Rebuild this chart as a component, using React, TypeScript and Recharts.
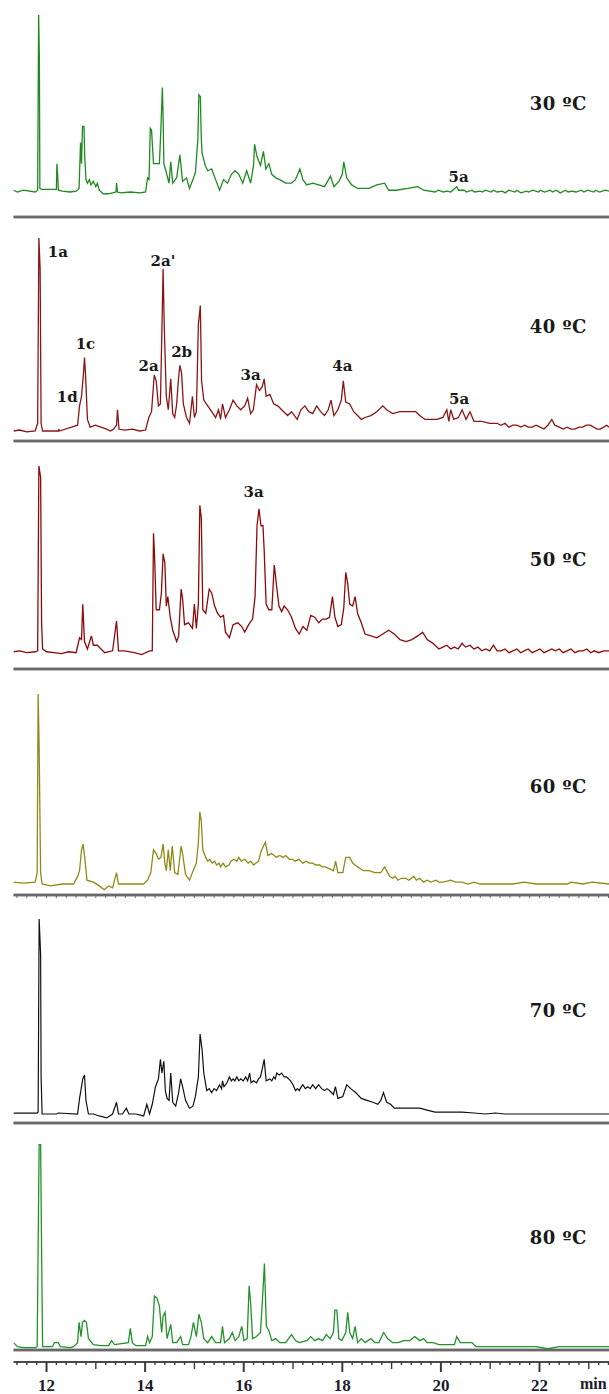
import { LineChart, Line, XAxis, YAxis, ReferenceLine, ReferenceDot } from 'recharts';

// retention time window shown on the shared time axis (min)
const T_START = 11.33;
const T_END = 23.41;

// chromatogram traces: [retention time (min), relative intensity (% of tallest peak)]
const run30: [number, number][] = [
  [11.33, 1], [11.41, 0], [11.53, 1], [11.77, 0], [11.82, 1], [11.84, 100], [11.855, 75], [11.865, 2],
  [11.9, 1.5], [12.2, 1.5], [12.21, 16], [12.225, 10], [12.24, 1], [12.32, 0.5], [12.48, 0], [12.6, 0.5],
  [12.66, 2], [12.69, 28], [12.71, 16], [12.73, 37], [12.76, 37], [12.775, 20], [12.8, 7], [12.83, 5],
  [12.87, 7], [12.9, 4], [12.95, 6], [13.0, 3], [13.03, 5], [13.07, 1], [13.15, -1], [13.25, -1],
  [13.34, -0.5], [13.41, 0], [13.42, 5], [13.44, 0], [13.5, -0.5], [13.7, 0], [13.9, -0.5], [14.01, 0],
  [14.05, 8], [14.08, 7], [14.105, 36], [14.13, 35], [14.17, 16], [14.29, 16], [14.32, 36], [14.35, 59],
  [14.365, 42], [14.38, 16], [14.43, 11], [14.485, 5], [14.52, 17], [14.56, 5], [14.64, 8], [14.705, 21],
  [14.76, 6], [14.84, 8], [14.9, 2], [14.97, 7], [15.02, 11], [15.07, 30], [15.09, 55], [15.12, 54],
  [15.14, 30], [15.155, 22], [15.22, 15], [15.27, 12], [15.35, 13], [15.43, 7], [15.51, 1], [15.59, 7],
  [15.67, 5], [15.75, 10], [15.825, 12], [15.9, 10], [15.98, 5], [16.06, 12], [16.14, 5], [16.2, 15],
  [16.22, 27], [16.27, 20], [16.34, 15], [16.4, 23], [16.45, 13], [16.51, 16], [16.57, 10], [16.65, 8],
  [16.73, 7], [16.85, 5], [16.97, 5], [17.05, 7], [17.14, 13], [17.2, 7], [17.28, 4], [17.4, 5],
  [17.52, 4], [17.64, 3], [17.76, 9], [17.83, 3], [17.93, 6], [18.0, 10], [18.03, 17], [18.09, 8],
  [18.19, 4], [18.31, 2], [18.42, 2], [18.54, 2], [18.7, 4], [18.86, 5], [18.94, 1], [19.09, 1],
  [19.33, 2], [19.53, 3], [19.65, 1], [19.88, 0], [19.95, 1], [20.05, 0], [20.12, 0.5], [20.2, 0],
  [20.32, 3], [20.36, 1], [20.47, 1], [20.52, 0], [20.63, 1], [20.68, 0], [20.8, 0.5], [20.84, 0],
  [20.9, 1], [21.02, 0], [21.06, 1], [21.14, 0], [21.25, 0.5], [21.3, -0.5], [21.38, 1], [21.5, 0],
  [21.54, 1], [21.62, -0.5], [21.74, 0.5], [21.78, 0], [21.86, 1], [21.98, 0], [22.02, 1], [22.1, 0],
  [22.22, 1], [22.26, 0], [22.34, 1], [22.42, -0.5], [22.53, 1], [22.58, 0], [22.66, 0.5], [22.74, 0],
  [22.85, 1], [22.9, 0], [22.98, 1], [23.1, 0], [23.14, 1], [23.22, 0], [23.33, 1], [23.41, 0.5],
];

const run40: [number, number][] = [
  [11.33, 0], [11.45, 0.5], [11.6, -0.5], [11.77, 0], [11.82, 4], [11.845, 100], [11.87, 84], [11.89, 4],
  [11.92, 0], [12.24, 0], [12.25, 1], [12.26, 0], [12.63, 3], [12.67, 13], [12.71, 18], [12.75, 30],
  [12.77, 38], [12.79, 30], [12.83, 6], [12.885, 2], [12.99, 3], [13.105, 2], [13.22, 1], [13.3, 0],
  [13.36, 1], [13.42, 3], [13.44, 11], [13.47, 1], [13.58, 0.5], [13.74, 1], [13.89, 0], [14.01, 0.5],
  [14.075, 7], [14.13, 10], [14.185, 29], [14.225, 26], [14.27, 13], [14.31, 14], [14.34, 52], [14.365, 84],
  [14.39, 52], [14.43, 18], [14.47, 11], [14.52, 27], [14.56, 9], [14.6, 7], [14.64, 14], [14.68, 28],
  [14.705, 34], [14.74, 30], [14.775, 14], [14.84, 7], [14.9, 4], [14.96, 18], [15.0, 7], [15.04, 10],
  [15.08, 55], [15.12, 65], [15.145, 26], [15.19, 16], [15.27, 13], [15.35, 10], [15.43, 7], [15.49, 11],
  [15.53, 6], [15.57, 14], [15.63, 7], [15.71, 11], [15.785, 16], [15.86, 13], [15.94, 11], [16.02, 13],
  [16.08, 17], [16.14, 9], [16.195, 11], [16.26, 24], [16.32, 21], [16.375, 23], [16.415, 27], [16.455, 18],
  [16.53, 19], [16.61, 14], [16.69, 13], [16.77, 11], [16.89, 8], [16.97, 10], [17.085, 6], [17.16, 11],
  [17.24, 13], [17.32, 10], [17.4, 9], [17.48, 13], [17.56, 10], [17.64, 8], [17.715, 11], [17.77, 16],
  [17.83, 8], [17.91, 11], [17.98, 16], [18.02, 26], [18.07, 15], [18.15, 14], [18.23, 10], [18.31, 8],
  [18.385, 6], [18.46, 7], [18.58, 8], [18.7, 10], [18.82, 13], [18.9, 11], [19.02, 9], [19.17, 10],
  [19.33, 10], [19.49, 10], [19.57, 8], [19.68, 6], [19.8, 6], [19.92, 6], [20.04, 7], [20.12, 11],
  [20.16, 5], [20.2, 11], [20.26, 6], [20.355, 7], [20.43, 11], [20.51, 6], [20.59, 10], [20.67, 5],
  [20.83, 5], [20.99, 4], [21.14, 4], [21.22, 3], [21.3, 4], [21.38, 2], [21.46, 3], [21.54, 3],
  [21.62, 2], [21.7, 3], [21.77, 2], [21.85, 2], [21.93, 3], [22.01, 2], [22.09, 1], [22.17, 3],
  [22.25, 6], [22.31, 3], [22.4, 2], [22.48, 1], [22.56, 2], [22.64, 1], [22.72, 1], [22.8, 2],
  [22.88, 2], [22.95, 3], [23.03, 3], [23.1, 2], [23.17, 1], [23.23, 1], [23.3, 2], [23.36, 3], [23.41, 2],
];

const run50: [number, number][] = [
  [11.33, 0.5], [11.45, 1], [11.6, 0], [11.77, 0.5], [11.82, 1], [11.845, 100], [11.88, 94], [11.9, 16],
  [11.92, 2], [12.0, 0.5], [12.15, 0], [12.3, -0.5], [12.45, 0.5], [12.6, 0], [12.67, 8], [12.71, 7],
  [12.735, 26], [12.77, 6], [12.83, 2], [12.91, 9], [12.95, 4], [13.03, 4], [13.105, 2], [13.18, 0],
  [13.34, 1], [13.42, 17], [13.46, 1], [13.58, 1], [13.78, 0], [13.93, -1], [14.09, 1], [14.145, 1],
  [14.17, 64], [14.19, 53], [14.225, 23], [14.29, 23], [14.33, 32], [14.365, 53], [14.4, 48], [14.43, 25],
  [14.46, 30], [14.51, 19], [14.56, 12], [14.64, 6], [14.68, 9], [14.73, 34], [14.76, 29], [14.8, 15],
  [14.88, 16], [14.96, 13], [15.0, 26], [15.04, 13], [15.08, 26], [15.11, 79], [15.14, 72], [15.17, 23],
  [15.23, 21], [15.3, 34], [15.35, 32], [15.41, 25], [15.47, 21], [15.53, 19], [15.59, 20], [15.63, 11],
  [15.71, 8], [15.785, 15], [15.88, 16], [15.96, 14], [16.02, 11], [16.1, 15], [16.18, 18], [16.23, 30],
  [16.27, 68], [16.31, 77], [16.35, 68], [16.39, 68], [16.415, 55], [16.455, 26], [16.51, 23], [16.57, 23],
  [16.62, 47], [16.67, 35], [16.715, 25], [16.77, 22], [16.82, 25], [16.89, 23], [16.97, 19], [17.05, 13],
  [17.125, 10], [17.2, 14], [17.28, 12], [17.36, 20], [17.44, 19], [17.52, 16], [17.6, 18], [17.675, 18],
  [17.74, 19], [17.8, 30], [17.85, 19], [17.91, 14], [17.98, 15], [18.03, 24], [18.07, 43], [18.11, 37],
  [18.15, 26], [18.21, 25], [18.26, 30], [18.31, 21], [18.385, 16], [18.46, 10], [18.58, 9], [18.7, 8],
  [18.82, 10], [18.94, 12], [19.055, 10], [19.17, 7], [19.29, 6], [19.41, 7], [19.53, 9], [19.63, 11],
  [19.72, 7], [19.84, 5], [19.96, 2], [20.04, 3], [20.12, 4], [20.2, 2], [20.275, 3], [20.35, 2],
  [20.43, 5], [20.5, 3], [20.59, 4], [20.67, 2], [20.75, 3], [20.83, 1], [20.91, 2], [20.99, 1],
  [21.065, 4], [21.14, 1], [21.22, 1], [21.3, 2], [21.38, 0], [21.46, 1], [21.54, 2], [21.62, 0],
  [21.69, 1], [21.77, 2], [21.85, 0], [21.93, 1], [22.01, 2], [22.09, 0], [22.17, 1], [22.25, 2],
  [22.32, 1], [22.4, 2], [22.48, 0], [22.56, 1], [22.64, 2], [22.72, 0], [22.8, 1], [22.88, 1],
  [22.96, 2], [23.04, 0], [23.11, 1], [23.2, 0], [23.3, 1], [23.41, 1],
];

const run60: [number, number][] = [
  [11.33, 1], [11.53, 0.5], [11.77, 1], [11.81, 6], [11.83, 100], [11.85, 72], [11.88, 6], [11.91, 0],
  [12.08, -1], [12.32, 0], [12.55, 0], [12.63, 4], [12.67, 7], [12.71, 18], [12.74, 21], [12.775, 14],
  [12.82, 2], [12.95, 1], [13.07, -1], [13.17, -3], [13.26, -1], [13.34, -2], [13.42, 6], [13.46, 0],
  [13.66, 0], [13.97, 0], [14.05, 2], [14.115, 6], [14.17, 18], [14.225, 16], [14.27, 13], [14.32, 14],
  [14.365, 21], [14.4, 11], [14.43, 7], [14.47, 18], [14.51, 7], [14.55, 20], [14.6, 6], [14.665, 5],
  [14.73, 20], [14.76, 16], [14.82, 5], [14.9, 2], [14.96, 6], [15.04, 11], [15.08, 22], [15.11, 38],
  [15.14, 33], [15.17, 18], [15.23, 14], [15.27, 12], [15.31, 13], [15.36, 11], [15.41, 12], [15.45, 10],
  [15.5, 11], [15.53, 9], [15.58, 11], [15.63, 9], [15.7, 10], [15.74, 12], [15.8, 13], [15.86, 12],
  [15.9, 14], [15.95, 12], [16.02, 13], [16.09, 11], [16.14, 12], [16.2, 10], [16.25, 11], [16.3, 12],
  [16.35, 17], [16.4, 20], [16.44, 22], [16.49, 15], [16.56, 16], [16.62, 15], [16.66, 14], [16.73, 15],
  [16.8, 14], [16.85, 15], [16.93, 13], [17.0, 13], [17.04, 12], [17.12, 13], [17.2, 11], [17.27, 12],
  [17.33, 11], [17.4, 11], [17.46, 10], [17.54, 10], [17.6, 9], [17.66, 9], [17.74, 8], [17.82, 7],
  [17.865, 12], [17.91, 6], [18.01, 6], [18.07, 14], [18.15, 14], [18.21, 11], [18.31, 9], [18.425, 7],
  [18.54, 7], [18.66, 6], [18.78, 6], [18.86, 9], [18.92, 6], [18.96, 4], [19.02, 3], [19.07, 4],
  [19.13, 2], [19.2, 3], [19.29, 3], [19.35, 2], [19.45, 4], [19.5, 2], [19.57, 3], [19.65, 1],
  [19.72, 2], [19.8, 1], [19.9, 2], [19.96, 1], [20.05, 1], [20.2, 2], [20.3, 1], [20.43, 1],
  [20.55, 0], [20.67, 1], [20.8, 0], [20.91, 0], [21.14, 0], [21.46, 0], [21.69, 1], [21.93, 0],
  [22.25, 0], [22.56, 0], [22.64, 1], [22.88, 0], [23.07, 1], [23.41, 0],
];

const run70: [number, number][] = [
  [11.33, 0.5], [11.81, 0.5], [11.83, 1], [11.85, 100], [11.88, 82], [11.89, 19], [11.91, 0], [12.2, 0],
  [12.24, 0.5], [12.63, 0], [12.67, 8], [12.71, 14], [12.735, 18], [12.77, 20], [12.8, 7], [12.85, 0],
  [12.95, 0], [13.07, -1], [13.22, -2], [13.34, 0], [13.42, 6], [13.46, 0], [13.54, 0], [13.62, 3],
  [13.67, 0], [13.815, 0], [13.97, -1], [14.035, 5], [14.09, 0], [14.145, 5], [14.21, 14], [14.27, 18],
  [14.31, 28], [14.34, 21], [14.38, 27], [14.41, 12], [14.445, 8], [14.485, 7], [14.52, 21], [14.56, 6],
  [14.62, 4], [14.68, 11], [14.72, 18], [14.76, 14], [14.82, 7], [14.9, 3], [14.97, 4], [15.02, 9],
  [15.08, 19], [15.115, 41], [15.155, 33], [15.19, 21], [15.25, 12], [15.3, 13], [15.35, 11], [15.4, 13],
  [15.45, 12], [15.51, 15], [15.55, 13], [15.57, 17], [15.6, 14], [15.66, 16], [15.71, 19], [15.75, 17],
  [15.785, 18], [15.82, 17], [15.86, 19], [15.9, 17], [15.94, 18], [15.99, 17], [16.04, 19], [16.08, 17],
  [16.12, 21], [16.15, 16], [16.2, 17], [16.26, 16], [16.3, 18], [16.34, 19], [16.375, 23], [16.415, 28],
  [16.455, 17], [16.53, 18], [16.57, 17], [16.61, 19], [16.64, 18], [16.67, 21], [16.72, 20], [16.77, 21],
  [16.82, 19], [16.87, 19], [16.91, 18], [16.95, 17], [17.0, 15], [17.05, 12], [17.09, 13], [17.125, 12],
  [17.17, 14], [17.2, 15], [17.25, 13], [17.3, 14], [17.35, 13], [17.4, 15], [17.46, 13], [17.52, 15],
  [17.58, 13], [17.64, 12], [17.69, 13], [17.74, 12], [17.78, 11], [17.82, 10], [17.86, 14], [17.91, 8],
  [18.01, 9], [18.09, 15], [18.17, 13], [18.27, 11], [18.385, 8], [18.5, 7], [18.62, 6], [18.72, 5],
  [18.78, 7], [18.835, 11], [18.9, 6], [18.98, 5], [19.055, 3], [19.21, 3], [19.41, 3], [19.57, 3],
  [19.72, 2], [19.88, 1], [20.04, 1], [20.2, 1], [20.43, 1], [20.67, 0.5], [20.91, 0], [21.1, 0.5],
  [21.3, 0], [21.69, 0], [22.09, 0], [22.48, 0], [22.88, 0], [23.41, 0],
];

const run80: [number, number][] = [
  [11.33, 2], [11.41, 0], [11.53, -0.5], [11.77, -0.5], [11.81, 0], [11.83, 50], [11.85, 100], [11.88, 100],
  [11.9, 47], [11.92, 0], [12.12, 0], [12.16, 2], [12.24, 2], [12.28, 0], [12.48, -0.5], [12.55, 0],
  [12.63, 2], [12.66, 12], [12.7, 5], [12.73, 12], [12.77, 13], [12.81, 12], [12.85, 4], [12.95, 1],
  [13.105, 0.5], [13.26, 0.5], [13.32, 3], [13.38, 1], [13.66, 2], [13.7, 9], [13.74, 2], [13.815, 0.5],
  [14.01, 0.5], [14.05, 5], [14.09, 2], [14.145, 5], [14.19, 25], [14.24, 24], [14.29, 20], [14.335, 7],
  [14.365, 15], [14.405, 17], [14.445, 4], [14.52, 11], [14.56, 2], [14.64, 2], [14.72, 5], [14.76, 1],
  [14.88, 1], [14.93, 5], [14.98, 12], [15.04, 5], [15.09, 16], [15.14, 12], [15.19, 4], [15.27, 2],
  [15.35, 5], [15.43, 2], [15.53, 2], [15.57, 10], [15.61, 2], [15.71, 4], [15.77, 7], [15.825, 3],
  [15.9, 5], [15.96, 10], [16.005, 3], [16.07, 4], [16.11, 30], [16.14, 22], [16.18, 4], [16.26, 5],
  [16.34, 7], [16.38, 23], [16.42, 41], [16.46, 10], [16.51, 8], [16.57, 3], [16.65, 4], [16.73, 2],
  [16.85, 2], [16.97, 6], [17.05, 3], [17.125, 2], [17.28, 3], [17.36, 5], [17.44, 3], [17.52, 4],
  [17.6, 3], [17.675, 6], [17.755, 4], [17.82, 7], [17.85, 18], [17.89, 18], [17.93, 4], [17.99, 3],
  [18.07, 7], [18.11, 17], [18.15, 7], [18.21, 4], [18.26, 10], [18.31, 2], [18.385, 4], [18.46, 2],
  [18.58, 4], [18.66, 2], [18.74, 2], [18.84, 7], [18.92, 4], [19.02, 2], [19.13, 2], [19.25, 3],
  [19.37, 3], [19.47, 5], [19.57, 3], [19.65, 4], [19.72, 2], [19.84, 2], [19.96, 1], [20.12, 1],
  [20.275, 1], [20.32, 5], [20.395, 2], [20.51, 2], [20.63, 2], [20.71, 0], [20.99, 0], [21.3, 0],
  [21.69, 0], [21.93, 0], [22.17, -1], [22.4, 0], [22.56, 0], [22.88, 0], [23.41, 0],
];

// peak assignments: [label, retention time, intensity at label centre]
const peaks30: [string, number, number][] = [['5a', 20.36, 8.5]];
const peaks40: [string, number, number][] = [
  ['1a', 12.23, 93], ['1d', 12.42, 18], ['1c', 12.79, 45], ['2a', 14.07, 34], ["2a'", 14.36, 88],
  ['2b', 14.74, 41], ['3a', 16.14, 29], ['4a', 18.0, 34], ['5a', 20.37, 16.6],
];
const peaks50: [string, number, number][] = [['3a', 16.2, 86]];

// extraction temperature captions: [text, retention time, intensity]
const tempLabels: [string, number, number][] = [
  ['30 ºC', 22.38, 50], ['40 ºC', 22.38, 54], ['50 ºC', 22.38, 50],
  ['60 ºC', 22.38, 51], ['70 ºC', 22.38, 53], ['80 ºC', 22.38, 54],
];

// axis ticks every 0.2 min across the window; even minutes carry a label
const allTicks: number[] = [];
for (let i = 57; i <= 117; i++) allTicks.push(Math.round(i * 2) / 10);

const W = 609;
const PAD_T = 2;
const PAD_B = 3;
const LEFT = 13.5;
const AXIS_H = 32;
const MINOR_H = 5;
const SERIF = "'DejaVu Serif', serif";

type Panel = {
  trace: [number, number][];
  color: string;
  width: number;
  peaks: [string, number, number][];
  // pixel rows: 100% level, 0% level, divider, bottom of plot area
  top: number;
  base: number;
  sep: number;
  bottom: number;
  axis?: boolean;
  minor?: boolean;
};

const panels: Panel[] = [
  { trace: run30, color: '#1f8a1f', width: 1.3, peaks: peaks30, top: 15, base: 192, sep: 217, bottom: 217 },
  { trace: run40, color: '#8b1414', width: 1.3, peaks: peaks40, top: 238, base: 431, sep: 441, bottom: 441 },
  { trace: run50, color: '#8b0a0a', width: 1.3, peaks: peaks50, top: 466, base: 652.7, sep: 669, bottom: 669 },
  { trace: run60, color: '#8f8a18', width: 1.3, peaks: [], top: 694, base: 884, sep: 895, bottom: 895, minor: true },
  { trace: run70, color: '#111111', width: 1.2, peaks: [], top: 919, base: 1114, sep: 1123, bottom: 1123 },
  { trace: run80, color: '#22922a', width: 1.3, peaks: [], top: 1144, base: 1346.7, sep: 1350, bottom: 1362, axis: true },
];

const isWhole = (v: number) => Math.abs(v - Math.round(v)) < 1e-6;

function TimeTick({ x, y, payload }: any) {
  const v = payload.value as number;
  const whole = isWhole(v);
  const major = whole && Math.round(v) % 2 === 0;
  const len = major ? 10 : whole ? 7 : 3;
  return (
    <g>
      <line x1={x} x2={x} y1={y} y2={y + len} stroke="#3a3a3a" strokeWidth={major ? 2 : 1.4} />
      {major && (
        <text
          x={x}
          y={y + 29}
          textAnchor="middle"
          fontFamily="'Liberation Serif', serif"
          fontWeight="bold"
          fontSize={17}
          fill="#1c1c2c"
        >
          {Math.round(v)}
        </text>
      )}
    </g>
  );
}

function MinorTick({ x, y }: any) {
  return <line x1={x} x2={x} y1={y} y2={y + 3} stroke="#666" strokeWidth={1} />;
}

function Trace({ p, idx }: { p: Panel; idx: number }) {
  const span = p.base - p.top;
  const lo = (-100 * (p.bottom - p.base)) / span;
  const sepVal = (-100 * (p.sep - p.base)) / span;
  const showAxis = !!(p.axis || p.minor);
  const axisH = p.axis ? AXIS_H : p.minor ? MINOR_H : 0;
  const height = PAD_T + (p.bottom - p.top) + (showAxis ? axisH : PAD_B);
  const data = p.trace.map(([t, v]) => ({ t, v }));
  const [tempText, tempT, tempV] = tempLabels[idx];

  return (
    <div style={{ position: 'absolute', left: 0, top: p.top - PAD_T }}>
      <LineChart
        width={W}
        height={height}
        data={data}
        margin={{ top: PAD_T, right: 0, bottom: showAxis ? 0 : PAD_B, left: LEFT }}
      >
        <XAxis
          dataKey="t"
          type="number"
          domain={[T_START, T_END]}
          allowDataOverflow
          hide={!showAxis}
          ticks={allTicks}
          interval={0}
          tickSize={0}
          tickMargin={0}
          tick={p.axis ? <TimeTick /> : <MinorTick />}
          height={axisH}
          axisLine={p.axis ? { stroke: '#4a4a4a', strokeWidth: 1.8 } : false}
        />
        <YAxis hide type="number" domain={[lo, 100]} allowDataOverflow />
        <ReferenceLine y={sepVal} stroke="#7f7f7f" strokeWidth={3} ifOverflow="extendDomain" />
        <ReferenceLine y={sepVal} stroke="#555555" strokeWidth={1} ifOverflow="extendDomain" />
        <Line
          type="linear"
          dataKey="v"
          stroke={p.color}
          strokeWidth={p.width}
          dot={false}
          activeDot={false}
          isAnimationActive={false}
        />
        {p.peaks.map(([text, t, v]) => (
          <ReferenceDot
            key={text}
            x={t}
            y={v}
            r={0}
            fill="none"
            stroke="none"
            label={{ position: 'center', value: text, fontFamily: SERIF, fontSize: 15, fontWeight: 'bold', fill: '#1a1a1a' }}
          />
        ))}
        <ReferenceDot
          x={tempT}
          y={tempV}
          r={0}
          fill="none"
          stroke="none"
          label={{
            position: 'center',
            value: tempText,
            fontFamily: SERIF,
            fontSize: 18,
            fontWeight: 'bold',
            letterSpacing: 0.5,
            fill: '#1a1a1a',
          }}
        />
      </LineChart>
    </div>
  );
}

export default function App() {
  return (
    <div
      style={{
        position: 'absolute',
        left: 0,
        top: 0,
        width: W,
        height: 1394,
        background: '#fff',
        overflow: 'hidden',
      }}
    >
      {panels.map((p, i) => (
        <Trace key={i} p={p} idx={i} />
      ))}
      <div
        style={{
          position: 'absolute',
          left: 580,
          top: 1375,
          fontFamily: "'Liberation Serif', serif",
          fontWeight: 'bold',
          fontSize: 16,
          color: '#1c1c2c',
        }}
      >
        min
      </div>
    </div>
  );
}
